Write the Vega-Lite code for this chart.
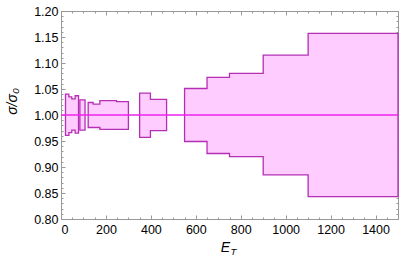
{
  "$schema": "https://vega.github.io/schema/vega-lite/v6.json",
  "width": 337,
  "height": 208,
  "autosize": "none",
  "padding": {"left": 61, "top": 11, "right": 1, "bottom": 50},
  "background": "white",
  "config": {
    "view": {"stroke": "#999999", "strokeWidth": 1},
    "axis": {
      "domain": false,
      "grid": false,
      "tickColor": "#999999",
      "labelFont": "Liberation Sans",
      "titleFont": "Liberation Sans",
      "labelFontSize": 12.5,
      "labelColor": "#000000",
      "titleColor": "#000000",
      "titleFontWeight": "normal"
    }
  },
  "datasets": {
    "band": [
      {"g": "A", "x": 20, "hi": 1.040, "lo": 0.961},
      {"g": "A", "x": 35, "hi": 1.035, "lo": 0.966},
      {"g": "A", "x": 48, "hi": 1.031, "lo": 0.971},
      {"g": "A", "x": 63, "hi": 1.037, "lo": 0.965},
      {"g": "A", "x": 78, "hi": 1.037, "lo": 0.965},
      {"g": "B", "x": 84, "hi": 1.029, "lo": 0.971},
      {"g": "B", "x": 107, "hi": 1.029, "lo": 0.971},
      {"g": "C", "x": 121, "hi": 1.024, "lo": 0.976},
      {"g": "C", "x": 143, "hi": 1.021, "lo": 0.976},
      {"g": "C", "x": 173, "hi": 1.0275, "lo": 0.9725},
      {"g": "C", "x": 247, "hi": 1.0256, "lo": 0.9725},
      {"g": "C", "x": 300, "hi": 1.0256, "lo": 0.9725},
      {"g": "D", "x": 350, "hi": 1.042, "lo": 0.957},
      {"g": "D", "x": 398, "hi": 1.030, "lo": 0.970},
      {"g": "D", "x": 470, "hi": 1.030, "lo": 0.970},
      {"g": "E", "x": 550, "hi": 1.051, "lo": 0.949},
      {"g": "E", "x": 650, "hi": 1.0725, "lo": 0.926},
      {"g": "E", "x": 750, "hi": 1.080, "lo": 0.920},
      {"g": "E", "x": 900, "hi": 1.115, "lo": 0.885},
      {"g": "E", "x": 1100, "hi": 1.157, "lo": 0.843},
      {"g": "E", "x": 1500, "hi": 1.157, "lo": 0.843}
    ]
  },
  "data": {"name": "band"},
  "resolve": {"axis": {"x": "independent", "y": "independent"}},
  "layer": [
    {
      "mark": {"type": "area", "interpolate": "step-after", "fill": "#ffccff", "stroke": "#b52fb5", "strokeWidth": 1.3},
      "encoding": {
        "x": {
          "field": "x", "type": "quantitative",
          "scale": {"domain": [0, 1500], "nice": false, "zero": false},
          "axis": {
            "orient": "bottom",
            "values": [0, 200, 400, 600, 800, 1000, 1200, 1400],
            "format": "d",
            "tickSize": -4,
            "labelPadding": 8,
            "title": "E",
            "titleFontStyle": "italic",
            "titleFontSize": 14,
            "titleX": 164,
            "titleY": 32,
            "titleBaseline": "alphabetic",
            "titleAlign": "center"
          }
        },
        "y": {
          "field": "hi", "type": "quantitative",
          "scale": {"domain": [0.8, 1.2], "nice": false, "zero": false},
          "axis": {
            "orient": "left",
            "values": [0.8, 0.85, 0.9, 0.95, 1.0, 1.05, 1.1, 1.15, 1.2],
            "format": ".2f",
            "tickSize": -4,
            "labelPadding": 7,
            "title": "σ/σ₀",
            "titleFontStyle": "italic",
            "titleFontSize": 14,
            "titleAngle": -90,
            "titleX": -45,
            "titleY": 90,
            "titleAlign": "center",
            "titleBaseline": "alphabetic"
          }
        },
        "y2": {"field": "lo"},
        "detail": {"field": "g"}
      }
    },
    {
      "data": {"values": [{"v": 1}]},
      "mark": {"type": "rule", "color": "#ee22ee", "strokeWidth": 1.3},
      "encoding": {
        "y": {"field": "v", "type": "quantitative", "axis": null}
      }
    },
    {
      "mark": {"type": "point", "opacity": 0},
      "encoding": {
        "x": {
          "field": "x", "type": "quantitative",
          "axis": {"orient": "bottom", "values": [50, 100, 150, 250, 300, 350, 450, 500, 550, 650, 700, 750, 850, 900, 950, 1050, 1100, 1150, 1250, 1300, 1350, 1450, 1500], "labels": false, "tickSize": -2, "title": null}
        },
        "y": {
          "field": "hi", "type": "quantitative",
          "axis": {"orient": "left", "values": [0.81, 0.82, 0.83, 0.84, 0.86, 0.87, 0.88, 0.89, 0.91, 0.92, 0.93, 0.94, 0.96, 0.97, 0.98, 0.99, 1.01, 1.02, 1.03, 1.04, 1.06, 1.07, 1.08, 1.09, 1.11, 1.12, 1.13, 1.14, 1.16, 1.17, 1.18, 1.19], "labels": false, "tickSize": -2, "title": null}
        }
      }
    },
    {
      "mark": {"type": "point", "opacity": 0},
      "encoding": {
        "x": {
          "field": "x", "type": "quantitative",
          "axis": {"orient": "top", "values": [0, 200, 400, 600, 800, 1000, 1200, 1400], "labels": false, "tickSize": -4, "title": null}
        },
        "y": {
          "field": "hi", "type": "quantitative",
          "axis": {"orient": "right", "values": [0.8, 0.85, 0.9, 0.95, 1.0, 1.05, 1.1, 1.15, 1.2], "labels": false, "tickSize": -4, "title": null}
        }
      }
    },
    {
      "mark": {"type": "point", "opacity": 0},
      "encoding": {
        "x": {
          "field": "x", "type": "quantitative",
          "axis": {"orient": "top", "values": [50, 100, 150, 250, 300, 350, 450, 500, 550, 650, 700, 750, 850, 900, 950, 1050, 1100, 1150, 1250, 1300, 1350, 1450, 1500], "labels": false, "tickSize": -2, "title": null}
        },
        "y": {
          "field": "hi", "type": "quantitative",
          "axis": {"orient": "right", "values": [0.81, 0.82, 0.83, 0.84, 0.86, 0.87, 0.88, 0.89, 0.91, 0.92, 0.93, 0.94, 0.96, 0.97, 0.98, 0.99, 1.01, 1.02, 1.03, 1.04, 1.06, 1.07, 1.08, 1.09, 1.11, 1.12, 1.13, 1.14, 1.16, 1.17, 1.18, 1.19], "labels": false, "tickSize": -2, "title": null}
        }
      }
    },
    {
      "mark": {"type": "point", "opacity": 0},
      "encoding": {
        "x": {
          "field": "x", "type": "quantitative",
          "axis": {"orient": "bottom", "values": [], "ticks": false, "labels": false, "title": "T", "titleFontSize": 9.5, "titleFontStyle": "italic", "titleX": 169, "titleY": 35, "titleAlign": "left", "titleBaseline": "alphabetic"}
        },
        "y": {"field": "hi", "type": "quantitative", "axis": null}
      }
    }
  ]
}
